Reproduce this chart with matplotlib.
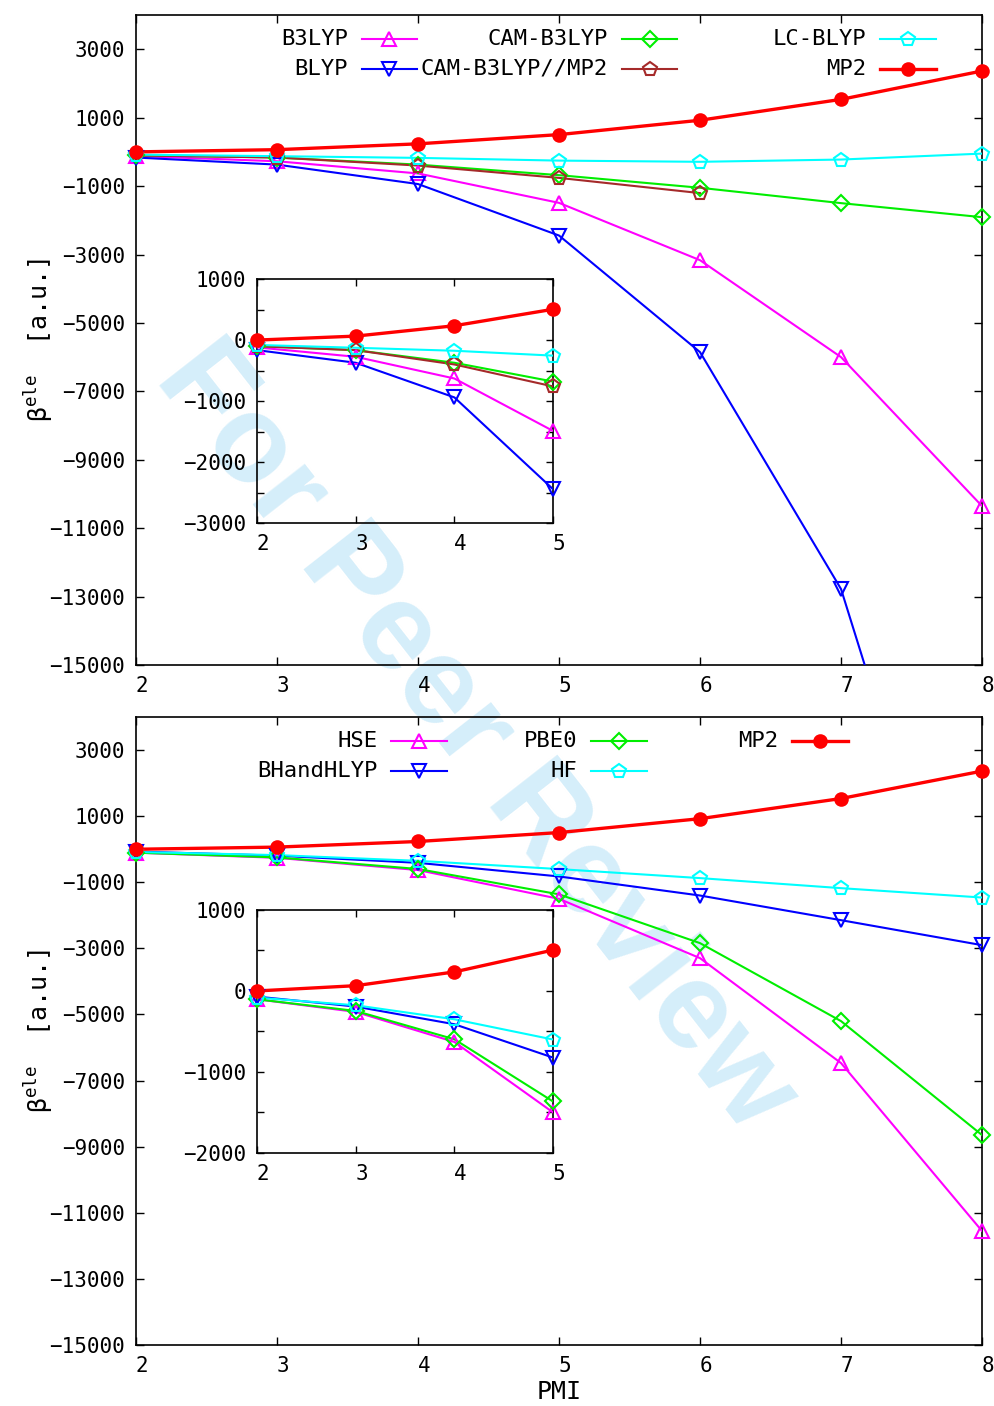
# beta_ele vs PMI, two panels with insets (gnuplot look)

import numpy as np
import matplotlib
matplotlib.use('Agg')
import matplotlib.pyplot as plt
import matplotlib.transforms as mtransforms
from matplotlib.lines import Line2D
from matplotlib.ticker import MultipleLocator

plt.rcParams['font.family'] = ['DejaVu Sans Mono', 'DejaVu Sans']
plt.rcParams['mathtext.fontset'] = 'custom'
plt.rcParams['mathtext.rm'] = 'DejaVu Sans Mono'
plt.rcParams['mathtext.it'] = 'DejaVu Sans Mono:italic'

# PMI values
pmi = [2, 3, 4, 5, 6, 7, 8]

# top panel
b3lyp = [-120, -274, -630, -1490, -3166, -6000, -10355]
blyp = [-165, -372, -940, -2445, -5854, -12780, -26000]
cam_b3lyp = [-100, -165, -372, -680, -1049, -1498, -1909]
cam_mp2 = [-100, -165, -400, -760, -1205]
lc_blyp = [-80, -126, -175, -255, -290, -224, -50]
mp2 = [0, 65, 235, 505, 925, 1535, 2365]

# bottom panel
hse = [-103, -259, -630, -1500, -3295, -6471, -11553]
bhandhlyp = [-70, -193, -411, -823, -1400, -2146, -2902]
pbe0 = [-103, -247, -597, -1365, -2841, -5201, -8649]
hf = [-82, -177, -350, -600, -873, -1177, -1461]

top_series = [
    ('B3LYP', b3lyp, '#ff00ff', '^', False),
    ('BLYP', blyp, '#0000ff', 'v', False),
    ('CAM-B3LYP', cam_b3lyp, '#00ee00', 'D', False),
    ('CAM-B3LYP//MP2', cam_mp2, '#a52a2a', 'p', False),
    ('LC-BLYP', lc_blyp, '#00ffff', 'p', False),
    ('MP2', mp2, '#ff0000', 'o', True),
]
bottom_series = [
    ('HSE', hse, '#ff00ff', '^', False),
    ('BHandHLYP', bhandhlyp, '#0000ff', 'v', False),
    ('PBE0', pbe0, '#00ee00', 'D', False),
    ('HF', hf, '#00ffff', 'p', False),
    ('MP2', mp2, '#ff0000', 'o', True),
]

FS = 15


def draw(ax, series, xmax, ylim, ms=10):
    for name, vals, col, mk, filled in series:
        x = np.array(pmi[:len(vals)], dtype=float)
        y = np.array(vals, dtype=float)
        keep = x <= xmax
        x, y = x[keep], y[keep]
        lw = 2.4 if filled else 1.5
        ax.plot(x, y, color=col, lw=lw, zorder=3)
        inside = (y >= ylim[0]) & (y <= ylim[1])
        msz = ms * 0.9 if filled else (ms * 0.8 if mk == 'D' else ms)
        ax.plot(x[inside], y[inside], ls='none', marker=mk, ms=msz,
                mfc=col if filled else 'none', mec=col, mew=1.5,
                clip_on=False, zorder=4)


def style(ax, tl=6):
    ax.set_facecolor('none')
    for s in ax.spines.values():
        s.set_linewidth(1.2)
    ax.tick_params(direction='in', top=True, right=True, length=tl,
                   width=1.0, labelsize=FS, pad=8)
    ax.tick_params(which='minor', direction='in', top=True, right=True,
                   length=tl, width=1.0)
    # gnuplot puts the x labels a few pixels right of the tick
    shift = mtransforms.ScaledTranslation(6 / 100, 0, fig.dpi_scale_trans)
    for lbl in ax.get_xticklabels():
        lbl.set_transform(lbl.get_transform() + shift)


def legend(ax, entries, xs, rows, seglen):
    # gnuplot style key: right-justified text then sample
    for i, (name, vals, col, mk, filled) in enumerate(entries):
        r = i % 2
        c = i // 2
        xt = xs[c]
        yy = rows[r]
        ax.text(xt, yy, name, transform=ax.transAxes, ha='right',
                va='center', fontsize=16)
        x0 = xt + 0.016
        ln = Line2D([x0, x0 + seglen], [yy, yy], transform=ax.transAxes,
                    color=col, lw=2.4 if filled else 1.5)
        ax.add_line(ln)
        msz = 9 if filled else (8 if mk == 'D' else 10)
        mkr = Line2D([x0 + seglen / 2], [yy], transform=ax.transAxes,
                     marker=mk, ms=msz, mfc=col if filled else 'none',
                     mec=col, mew=1.5, ls='none')
        ax.add_line(mkr)


fig = plt.figure(figsize=(9.94, 14.06), dpi=100)
fig.patch.set_facecolor('white')

ylab = r'β$^{\rm ele}$  [a.u.]'

# ---- top panel ----
ax1 = fig.add_axes([0.1368, 0.527, 0.8512, 0.4623])
draw(ax1, top_series, 8, (-15000, 4000))
ax1.set_xlim(2, 8)
ax1.set_ylim(-15000, 4000)
ax1.set_yticks(np.arange(-15000, 3001, 2000))
ax1.set_xticks(pmi)
style(ax1)
ax1.set_ylabel(ylab, fontsize=18)
ax1.yaxis.set_label_coords(-0.095, 0.5)
legend(ax1, top_series, [0.2506, 0.558, 0.863], [0.963, 0.917], 0.066)

in1 = fig.add_axes([0.2586, 0.628, 0.2978, 0.1735])
draw(in1, top_series, 5, (-3000, 1000), ms=10)
in1.set_xlim(2, 5)
in1.set_ylim(-3000, 1000)
in1.set_xticks([2, 3, 4, 5])
in1.set_yticks([-3000, -2000, -1000, 0, 1000])
in1.yaxis.set_minor_locator(MultipleLocator(500))
style(in1, tl=5)

# ---- bottom panel ----
ax2 = fig.add_axes([0.1368, 0.0434, 0.8512, 0.4466])
draw(ax2, bottom_series, 8, (-15000, 4000))
ax2.set_xlim(2, 8)
ax2.set_ylim(-15000, 4000)
ax2.set_yticks(np.arange(-15000, 3001, 2000))
ax2.set_xticks(pmi)
style(ax2)
ax2.set_ylabel(ylab, fontsize=18)
ax2.yaxis.set_label_coords(-0.095, 0.5)
ax2.set_xlabel('PMI', fontsize=18)
ax2.xaxis.set_label_coords(0.5, -0.055)
legend(ax2, bottom_series, [0.286, 0.522, 0.759], [0.962, 0.914], 0.066)

in2 = fig.add_axes([0.2586, 0.18, 0.2978, 0.1728])
draw(in2, bottom_series, 5, (-2000, 1000), ms=10)
in2.set_xlim(2, 5)
in2.set_ylim(-2000, 1000)
in2.set_xticks([2, 3, 4, 5])
in2.set_yticks([-2000, -1000, 0, 1000])
in2.yaxis.set_minor_locator(MultipleLocator(500))
style(in2, tl=5)

# watermark, under the curves
fig.text(0.478, 0.475, 'For Peer Review', fontsize=89, fontweight='bold',
         family='Liberation Sans', color='#d5eefa', rotation=-52,
         ha='center', va='center', rotation_mode='anchor', zorder=-1)

plt.savefig('out.png', dpi=100, facecolor='white')
